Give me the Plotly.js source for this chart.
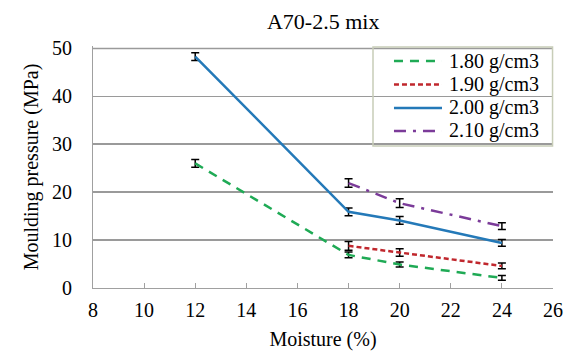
<!DOCTYPE html>
<html><head><meta charset="utf-8">
<script src="https://cdn.plot.ly/plotly-3.0.1.min.js"></script>
<style>body{margin:0;background:#fff}#chart{width:571px;height:356px}</style>
</head><body><div id="chart"></div>
<script>
const seriesNames = ["1.80 g/cm3", "1.90 g/cm3", "2.00 g/cm3", "2.10 g/cm3"];
const x180 = [12, 18, 20, 24];
const y180 = [26.0, 6.9, 4.9, 2.1];
const e180 = [0.8, 0.6, 0.5, 0.5];
const x190 = [18, 20, 24];
const y190 = [8.8, 7.4, 4.6];
const e190 = [0.9, 0.8, 0.6];
const x200 = [12, 18, 20, 24];
const y200 = [48.3, 15.9, 14.1, 9.4];
const e200 = [0.8, 0.8, 0.8, 0.7];
const x210 = [18, 20, 24];
const y210 = [21.9, 17.7, 12.9];
const e210 = [0.9, 0.9, 0.7];
const xTicks = [8, 10, 12, 14, 16, 18, 20, 22, 24, 26];
const yTicks = [0, 10, 20, 30, 40, 50];

const colors = ['#1faa55', '#c0272d', '#2479b8', '#7b3b99'];
const dashes = ['9px,7px', '5px,3px', 'solid', '12px,7px,3px,7px'];
const FONT = "Liberation Serif, serif";

function tr(x, y, e, i) {
  return {
    x: x, y: y, name: seriesNames[i], type: 'scatter', mode: 'lines', showlegend: false,
    line: {color: colors[i], width: 2.5, dash: dashes[i]},
    error_y: {type: 'data', array: e, visible: true, color: '#000', thickness: 1.5, width: 4}
  };
}
const data = [
  tr(x180, y180, e180, 0),
  tr(x190, y190, e190, 1),
  tr(x200, y200, e200, 2),
  tr(x210, y210, e210, 3)
];

// Manual legend (paper coordinates)
const legRowsY = [0.938, 0.841, 0.744, 0.649];
const shapes = [
  {type: 'line', xref: 'paper', x0: 0, x1: 1, yref: 'y', y0: 50, y1: 50,
   line: {color: '#9a9a9a', width: 1.5}, layer: 'below'},
  {type: 'rect', xref: 'paper', yref: 'paper', x0: 0.6087, x1: 0.999, y0: 0.5868, y1: 0.9959,
   line: {color: '#c8cdb8', width: 1.5}, fillcolor: 'rgba(0,0,0,0)', layer: 'above'}
];
const annotations = [];
seriesNames.forEach(function (n, i) {
  shapes.push({type: 'line', xref: 'paper', yref: 'paper', x0: 0.6543, x1: 0.7587,
    y0: legRowsY[i], y1: legRowsY[i], line: {color: colors[i], width: 2.5, dash: dashes[i]}, layer: 'above'});
  annotations.push({xref: 'paper', yref: 'paper', x: 0.7696, y: legRowsY[i], xanchor: 'left', yanchor: 'middle',
    text: n, showarrow: false, font: {family: FONT, size: 20, color: '#000'}});
});

const layout = {
  width: 571, height: 356,
  margin: {l: 93, r: 18, t: 46, b: 68},
  paper_bgcolor: '#fff', plot_bgcolor: '#fff',
  font: {family: FONT, size: 20, color: '#000'},
  title: {text: 'A70-2.5 mix', x: 0.566, xanchor: 'center', y: 0.941, yanchor: 'middle', font: {family: FONT, size: 22}},
  xaxis: {
    range: [8, 26], tickvals: xTicks, ticktext: xTicks.map(String),
    showgrid: false, zeroline: false, showline: true, linecolor: '#a0a0a0', linewidth: 1,
    ticks: 'inside', ticklen: 5, tickcolor: '#a0a0a0', tickfont: {family: FONT, size: 20},
    ticklabelstandoff: 4,
    title: {text: 'Moisture (%)', standoff: 11, font: {family: FONT, size: 20}}
  },
  yaxis: {
    range: [0, 50.5], tickvals: yTicks, ticktext: yTicks.map(String),
    showgrid: true, gridcolor: '#9a9a9a', gridwidth: 1.5, zeroline: false,
    showline: true, linecolor: '#a0a0a0', linewidth: 1, ticks: '', tickfont: {family: FONT, size: 20},
    ticklabelstandoff: 16,
    title: {text: 'Moulding pressure (MPa)', standoff: 8, font: {family: FONT, size: 20}}
  },
  shapes: shapes,
  annotations: annotations,
  showlegend: false
};
Plotly.newPlot('chart', data, layout, {displayModeBar: false, staticPlot: true});
</script></body></html>
